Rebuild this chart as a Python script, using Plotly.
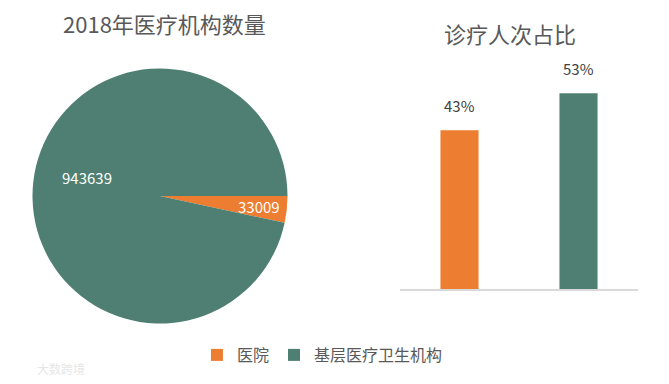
import numpy as np
import plotly.graph_objects as go

pie_labels = ["医院", "基层医疗卫生机构"]
pie_values = [33009, 943639]
bar_categories = ["医院", "基层医疗卫生机构"]
bar_values = [43, 53]
bar_text = ["43%", "53%"]
colors = ["#ED7D31", "#4E7F72"]

W, H = 669, 384
FONT = "Noto Sans CJK SC"

# pie geometry (pixels)
cx, cy, r = 160, 196, 127.5
pie_x0, pie_x1 = cx - r, cx + r
pie_y0, pie_y1 = cy - r, cy + r

fig = go.Figure()
fig.add_trace(go.Pie(
    labels=pie_labels, values=pie_values, sort=False, direction="clockwise",
    rotation=90, marker=dict(colors=colors, line=dict(width=0)),
    textinfo="none",
    domain=dict(x=[pie_x0 / W, pie_x1 / W], y=[1 - pie_y1 / H, 1 - pie_y0 / H]),
    showlegend=True,
))
fig.add_trace(go.Bar(
    x=bar_categories, y=bar_values,
    marker=dict(color=colors, line=dict(width=0)), width=0.32,
    showlegend=False, xaxis="x", yaxis="y",
))

annotations = []
# pie value labels placed at slice positions computed from the data
total = sum(pie_values)
start = 0.0  # degrees clockwise from 3 o'clock
radial = [0.78, 0.59]
extra = [0, 8.5]
for i, v in enumerate(pie_values):
    span = 360.0 * v / total
    mid = start + span / 2 + extra[i]
    start += span
    a = np.deg2rad(mid)
    px = cx + radial[i] * r * np.cos(a)
    py = cy + radial[i] * r * np.sin(a)
    annotations.append(dict(text=str(v), x=px / W, y=1 - py / H, xref="paper", yref="paper",
                            xanchor="center", yanchor="middle", showarrow=False,
                            font=dict(size=15, color="white", family=FONT)))
# bar value labels
for c, v, t in zip(bar_categories, bar_values, bar_text):
    annotations.append(dict(text=t, x=c, y=v, xref="x", yref="y", xanchor="center",
                            yanchor="bottom", yshift=12, showarrow=False,
                            font=dict(size=15, color="#404040", family=FONT)))
annotations += [
    dict(text="2018年医疗机构数量", x=164 / W, y=1 - 23 / H, xref="paper", yref="paper",
         xanchor="center", yanchor="middle",
         showarrow=False, font=dict(size=22, color="#595959", family=FONT)),
    dict(text="诊疗人次占比", x=510 / W, y=1 - 33 / H, xref="paper", yref="paper",
         xanchor="center", yanchor="middle",
         showarrow=False, font=dict(size=22, color="#595959", family=FONT)),
    dict(text="大数跨境", x=35 / W, y=1 - 368 / H, xref="paper", yref="paper",
         xanchor="left", yanchor="middle", showarrow=False,
         font=dict(size=12, color="#e6e6e6", family=FONT)),
]

fig.update_layout(
    width=W, height=H, margin=dict(l=0, r=0, t=0, b=0),
    paper_bgcolor="white", plot_bgcolor="white",
    font=dict(family=FONT, color="#595959"),
    xaxis=dict(domain=[400 / W, 638 / W], range=[-0.5, 1.5], showticklabels=False,
               showline=True, linecolor="#d9d9d9", linewidth=2, ticks="",
               showgrid=False, zeroline=False, fixedrange=True),
    yaxis=dict(domain=[1 - 289 / H, 1 - 60 / H], range=[0, 62], visible=False,
               showgrid=False, zeroline=False),
    legend=dict(orientation="h", x=0.482, xanchor="center", y=1 - 355 / H, yanchor="middle",
                font=dict(size=16, color="#595959", family=FONT), itemwidth=30,
                traceorder="normal"),
    annotations=annotations,
)

fig.write_html("out.html")
